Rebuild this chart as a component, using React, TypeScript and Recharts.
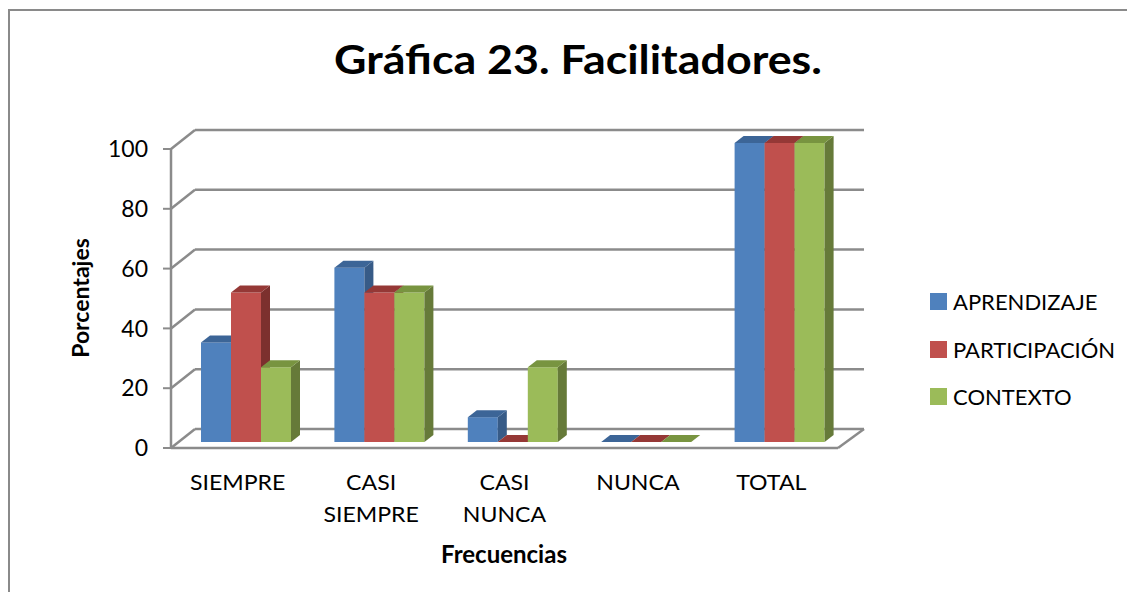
import { Bar, BarChart, CartesianGrid, Legend, XAxis, YAxis } from "recharts";

const categories = ["SIEMPRE", "CASI SIEMPRE", "CASI NUNCA", "NUNCA", "TOTAL"];
const seriesNames = ["APRENDIZAJE", "PARTICIPACIÓN", "CONTEXTO"];
const aprendizaje = [33.3, 58.3, 8.3, 0, 100];
const participacion = [50, 50, 0, 0, 100];
const contexto = [25, 50, 25, 0, 100];
const yTicks = [0, 20, 40, 60, 80, 100];

const data = categories.map((name, i) => ({
  name,
  APRENDIZAJE: aprendizaje[i],
  "PARTICIPACIÓN": participacion[i],
  CONTEXTO: contexto[i],
}));

const FONT = "Lato, 'Noto Sans', sans-serif";
const GRID = "#8b8b8b";

// chart frame (front plane of the 3d box)
const W = 1135;
const H = 600;
const M = { top: 149, right: 297, bottom: 92, left: 111 };
const Y_AXIS_W = 60;
const X_AXIS_H = 60;
const PLOT_BOTTOM = H - M.bottom - X_AXIS_H;

// depth of the box and of the bars
const WALL_DX = 24;
const WALL_DY = -19;
const BAR_OX = 8;
const BAR_OY = -6;
const BAR_DX = 9;
const BAR_DY = -7;

const palette: Record<string, { front: string; side: string; top: string }> = {
  APRENDIZAJE: { front: "#4f81bd", side: "#375b87", top: "#3c6597" },
  "PARTICIPACIÓN": { front: "#c0504d", side: "#7c302e", top: "#953836" },
  CONTEXTO: { front: "#9bbb59", side: "#667a39", top: "#789440" },
};

function Bar3D(props: any) {
  const { x, y, width, height, dataKey } = props;
  const c = palette[dataKey];
  const fx = x + BAR_OX;
  const fy = y + BAR_OY;
  const h = Math.max(height, 0);
  return (
    <g>
      <rect x={fx} y={fy} width={width} height={h} fill={c.front} />
      <polygon
        points={`${fx + width},${fy} ${fx + width + BAR_DX},${fy + BAR_DY} ${fx + width + BAR_DX},${fy + h + BAR_DY} ${fx + width},${fy + h}`}
        fill={c.side}
      />
      <polygon
        points={`${fx},${fy} ${fx + BAR_DX},${fy + BAR_DY} ${fx + width + BAR_DX},${fy + BAR_DY} ${fx + width},${fy}`}
        fill={c.top}
      />
    </g>
  );
}

function WallLine(p: any) {
  const { x1, x2, y1 } = p;
  const floor = Math.abs(y1 - PLOT_BOTTOM) < 1.5;
  return (
    <g key={p.key}>
      <line x1={x1} y1={y1} x2={x1 + WALL_DX} y2={y1 + WALL_DY} stroke={GRID} strokeWidth={2.5} />
      <line x1={x1 + WALL_DX} y1={y1 + WALL_DY} x2={x2 + WALL_DX + 2} y2={y1 + WALL_DY} stroke={GRID} strokeWidth={2.5} />
      {floor && (
        <line x1={x2} y1={y1} x2={x2 + WALL_DX + 2} y2={y1 + WALL_DY} stroke={GRID} strokeWidth={2.5} />
      )}
    </g>
  );
}

function CategoryTick(props: any) {
  const { x, y, payload } = props;
  const words = String(payload.value).split(" ");
  return (
    <g transform={`translate(${x},${y}) scale(1.1,1)`}>
      <text x={0} y={0} textAnchor="middle" fill="#000" fontSize={21} fontFamily={FONT}>
        {words.map((w, i) => (
          <tspan key={i} x={0} dy={i === 0 ? 34 : 32}>
            {w}
          </tspan>
        ))}
      </text>
    </g>
  );
}

function LegendBox(props: any) {
  const items = [...(props.payload || [])].sort(
    (a: any, b: any) => seriesNames.indexOf(a.value) - seriesNames.indexOf(b.value)
  );
  return (
    <div style={{ fontFamily: FONT, fontSize: 22, color: "#000" }}>
      {items.map((it: any) => (
        <div key={it.value} style={{ display: "flex", alignItems: "center", height: 47.5 }}>
          <span style={{ width: 17, height: 17, background: it.color, marginRight: 6, display: "inline-block" }} />
          <span>{it.value}</span>
        </div>
      ))}
    </div>
  );
}

export default function App() {
  return (
    <div style={{ position: "relative", margin: -8, width: W, height: H, overflow: "hidden", background: "#fff" }}>
      <BarChart
        width={W}
        height={H}
        data={data}
        margin={M}
        barCategoryGap={22}
        barGap={0}
      >
        <rect x={9} y={10} width={1120} height={640} fill="none" stroke="#8a8a8a" strokeWidth={2} />
        <text
          transform="translate(578,74) scale(1.12,1)"
          x={0}
          y={0}
          textAnchor="middle"
          fontFamily={FONT}
          fontWeight={700}
          fontSize={40}
          fill="#000"
        >
          Gráfica 23. Facilitadores.
        </text>
        <text
          x={0}
          y={0}
          transform="translate(89,298) rotate(-90)"
          textAnchor="middle"
          fontFamily={FONT}
          fontWeight={700}
          fontSize={23}
          fill="#000"
        >
          Porcentajes
        </text>
        <text x={504} y={563} textAnchor="middle" fontFamily={FONT} fontWeight={700} fontSize={24} fill="#000">
          Frecuencias
        </text>
        <CartesianGrid vertical={false} horizontal={WallLine} />
        <XAxis
          dataKey="name"
          height={X_AXIS_H}
          tickLine={false}
          axisLine={{ stroke: GRID, strokeWidth: 2.5 }}
          tick={<CategoryTick />}
          interval={0}
        />
        <YAxis
          width={Y_AXIS_W}
          domain={[0, 100]}
          ticks={yTicks}
          tickSize={8}
          tickLine={{ stroke: GRID, strokeWidth: 2 }}
          axisLine={{ stroke: GRID, strokeWidth: 2.5 }}
          tick={{ fill: "#000", fontSize: 23, fontFamily: FONT }}
          tickMargin={15}
        />
        <Legend
          layout="vertical"
          align="center"
          verticalAlign="middle"
          content={<LegendBox />}
          wrapperStyle={{ position: "absolute", left: 930, top: 278, width: 205 }}
        />
        <Bar dataKey="APRENDIZAJE" fill={palette.APRENDIZAJE.front} shape={Bar3D} isAnimationActive={false} />
        <Bar dataKey="PARTICIPACIÓN" fill={palette["PARTICIPACIÓN"].front} shape={Bar3D} isAnimationActive={false} />
        <Bar dataKey="CONTEXTO" fill={palette.CONTEXTO.front} shape={Bar3D} isAnimationActive={false} />
      </BarChart>
    </div>
  );
}
